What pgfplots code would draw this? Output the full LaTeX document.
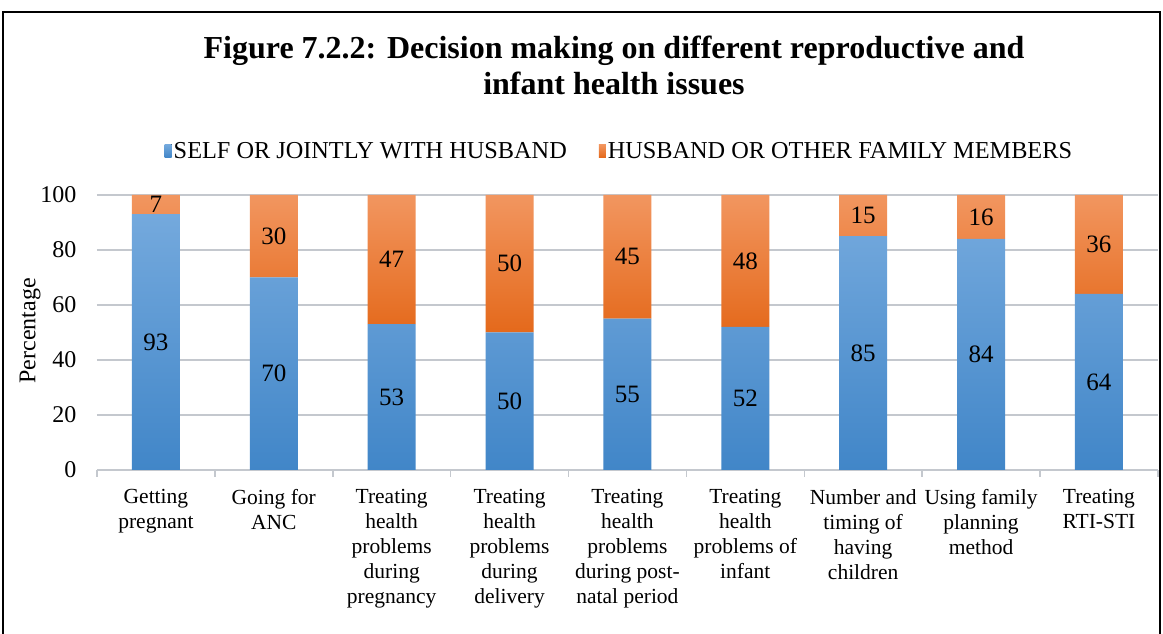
\documentclass[border=0pt]{standalone}
\usepackage{pgfplots}
\pgfplotsset{compat=1.18}
\usepackage{fontspec}
\setmainfont{Liberation Serif}
\definecolor{bluetop}{HTML}{74A9DD}
\definecolor{bluebot}{HTML}{4186C8}
\definecolor{orgtop}{HTML}{F29660}
\definecolor{orgbot}{HTML}{E4691B}
\definecolor{gridc}{HTML}{C4C8CE}
\begin{document}
\begin{tikzpicture}[x=1pt,y=1pt]
\path[use as bounding box, fill=white] (0,0) rectangle (1163,634);
\draw[line width=1.4pt] (3,-1) -- (3,622) -- (1160,622) -- (1160,-1);
\node[font=\fontsize{32}{36}\selectfont\bfseries, align=center] at (614,569)
  {Figure 7.2.2: Decision making on different reproductive and\\infant health issues};
\node[rotate=90, font=\fontsize{24}{28}\selectfont] at (30,303) {Percentage};
\begin{axis}[
  at={(97pt,164pt)}, anchor=south west,
  scale only axis, width=1061pt, height=275pt,
  ybar stacked, bar width=48pt,
  xmin=-0.5, xmax=8.5, ymin=0, ymax=100,
  ytick={0,20,40,60,80,100},
  xtick={0,...,8},
  xticklabels={Getting\\pregnant, Going for\\ANC, Treating\\health\\problems\\during\\pregnancy, Treating\\health\\problems\\during\\delivery, Treating\\health\\problems\\during post-\\natal period, Treating\\health\\problems of\\infant, Number and\\timing of\\having\\children, Using family\\planning\\method, Treating\\RTI-STI},
  xticklabel style={align=center, font=\fontsize{21.5}{25}\selectfont, anchor=north, yshift=-16pt},
  yticklabel style={font=\fontsize{24}{28}\selectfont, xshift=-17pt},
  /pgf/number format/assume math mode=true,
  major tick length=0pt,
  xtick pos=bottom, ytick pos=left,
  extra x ticks={-0.5,0.5,...,8.5},
  extra x tick labels={},
  extra x tick style={major tick length=7pt, tick align=outside, tick style={draw=gridc, line width=1.5pt}},
  ymajorgrids=true,
  y grid style={draw=gridc, line width=1.6pt, solid},
  axis line style={draw=none},
  legend columns=2,
  legend style={at={(0.5,1)}, anchor=south, yshift=31pt, xshift=-8pt, draw=none, fill=none,
    font=\fontsize{24.3}{28}\selectfont,
    /tikz/every even column/.append style={column sep=30pt}},
  legend image code/.code={\fill[#1] (0pt,-6.5pt) rectangle (7pt,6.5pt);},
]
\addplot[draw=none, top color=bluetop, bottom color=bluebot] coordinates {(0,93) (1,70) (2,53) (3,50) (4,55) (5,52) (6,85) (7,84) (8,64)};
\addlegendentry{SELF OR JOINTLY WITH HUSBAND}
\addplot[draw=none, top color=orgtop, bottom color=orgbot] coordinates {(0,7) (1,30) (2,47) (3,50) (4,45) (5,48) (6,15) (7,16) (8,36)};
\addlegendentry{HUSBAND OR OTHER FAMILY MEMBERS}
\end{axis}
\begin{axis}[
  at={(97pt,164pt)}, anchor=south west,
  scale only axis, width=1061pt, height=275pt,
  xmin=-0.5, xmax=8.5, ymin=0, ymax=100,
  hide axis,
]
\addplot[draw=none, mark=none, nodes near coords, point meta=explicit symbolic,
  every node near coord/.append style={anchor=center, font=\fontsize{25}{28}\selectfont}]
  coordinates {(0,46.5)[93] (1,35)[70] (2,26.5)[53] (3,25)[50] (4,27.5)[55] (5,26)[52] (6,42.5)[85] (7,42)[84] (8,32)[64]
               (0,96.5)[7] (1,85)[30] (2,76.5)[47] (3,75)[50] (4,77.5)[45] (5,76)[48] (6,92.5)[15] (7,92)[16] (8,82)[36]};
\end{axis}
\end{tikzpicture}
\end{document}
